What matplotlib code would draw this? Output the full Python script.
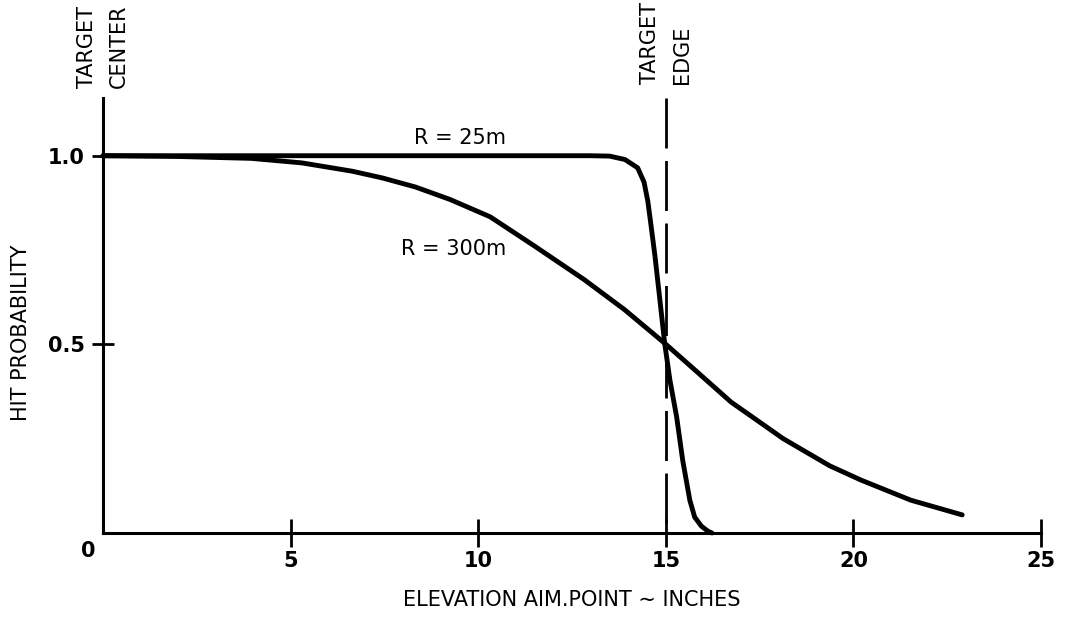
import matplotlib
matplotlib.use("Agg")
import matplotlib.pyplot as plt

plt.rcParams['font.family'] = ['DejaVu Sans']
plt.rcParams['lines.scale_dashes'] = False

# Data
r25_x = [0, 5, 10, 13.0, 13.5, 13.91, 14.25, 14.42, 14.52, 14.6, 14.71, 14.84, 14.97,
         15.11, 15.29, 15.45, 15.64, 15.77, 15.95, 16.12, 16.23]
r25_y = [1.0, 1.0, 1.0, 1.0, 0.999, 0.99, 0.968, 0.93, 0.88, 0.82, 0.735, 0.62, 0.503,
         0.405, 0.307, 0.193, 0.087, 0.042, 0.018, 0.005, 0.0]

r300_x = [0, 2, 3.95, 5.3, 6.64, 7.45, 8.33, 9.25, 10.32, 11.48, 12.82, 13.9, 14.97,
          15.8, 16.74, 18.13, 19.37, 20.21, 21.53, 22.9]
r300_y = [1.0, 0.998, 0.993, 0.981, 0.959, 0.941, 0.917, 0.884, 0.838, 0.762, 0.672, 0.592, 0.503,
          0.43, 0.347, 0.25, 0.178, 0.14, 0.087, 0.048]

x_ticks = [5, 10, 15, 20, 25]
x_tick_labels = ['5', '10', '15', '20', '25']
y_ticks = [0.5, 1.0]
y_tick_labels = ['0.5', '1.0']

target_edge = 15
y_top = 1.153

fig = plt.figure(figsize=(10.65, 6.18), dpi=100)
ax = fig.add_axes([103/1065, 85/618, (1041-103)/1065, (533-98)/618])
ax.set_xlim(0, 25)
ax.set_ylim(0, y_top)

for s in ['top', 'right']:
    ax.spines[s].set_visible(False)
for s in ['left', 'bottom']:
    ax.spines[s].set_linewidth(2.2)
    ax.spines[s].set_color('black')

ax.plot(r25_x, r25_y, color='black', lw=3.5, solid_capstyle='round', solid_joinstyle='round', clip_on=False)
ax.plot(r300_x, r300_y, color='black', lw=3.5, solid_capstyle='round', solid_joinstyle='round', clip_on=False)
ax.plot([target_edge, target_edge], [y_top, 0], color='black', lw=2.0, dashes=(36, 9), clip_on=False)

ax.set_xticks(x_ticks)
ax.set_xticklabels(x_tick_labels, fontsize=15, fontweight='bold')
ax.set_yticks(y_ticks)
ax.set_yticklabels(y_tick_labels, fontsize=15, fontweight='bold')
ax.tick_params(axis='x', direction='inout', length=20, width=2, pad=3)
ax.tick_params(axis='y', direction='inout', length=16, width=2, pad=5)

ax.text(-0.4, -0.02, '0', ha='center', va='top', fontsize=15, fontweight='bold')

ax.set_xlabel('ELEVATION AIM.POINT \u223c INCHES', fontsize=15, labelpad=14)
ax.text(-82/938, 0.46, 'HIT PROBABILITY', transform=ax.transAxes, rotation=90,
        ha='center', va='center', fontsize=15)

ax.text(0, 1.18, 'TARGET\nCENTER', rotation=90, ha='center', va='bottom',
        multialignment='left', fontsize=15, linespacing=1.75, clip_on=False)
ax.text(target_edge, 1.19, 'TARGET\nEDGE', rotation=90, ha='center', va='bottom',
        multialignment='left', fontsize=15, linespacing=1.75, clip_on=False)

ax.text(9.52, 1.048, 'R = 25m', ha='center', va='center', fontsize=15)
ax.text(9.34, 0.754, 'R = 300m', ha='center', va='center', fontsize=15)

fig.savefig('out.png', dpi=100)
